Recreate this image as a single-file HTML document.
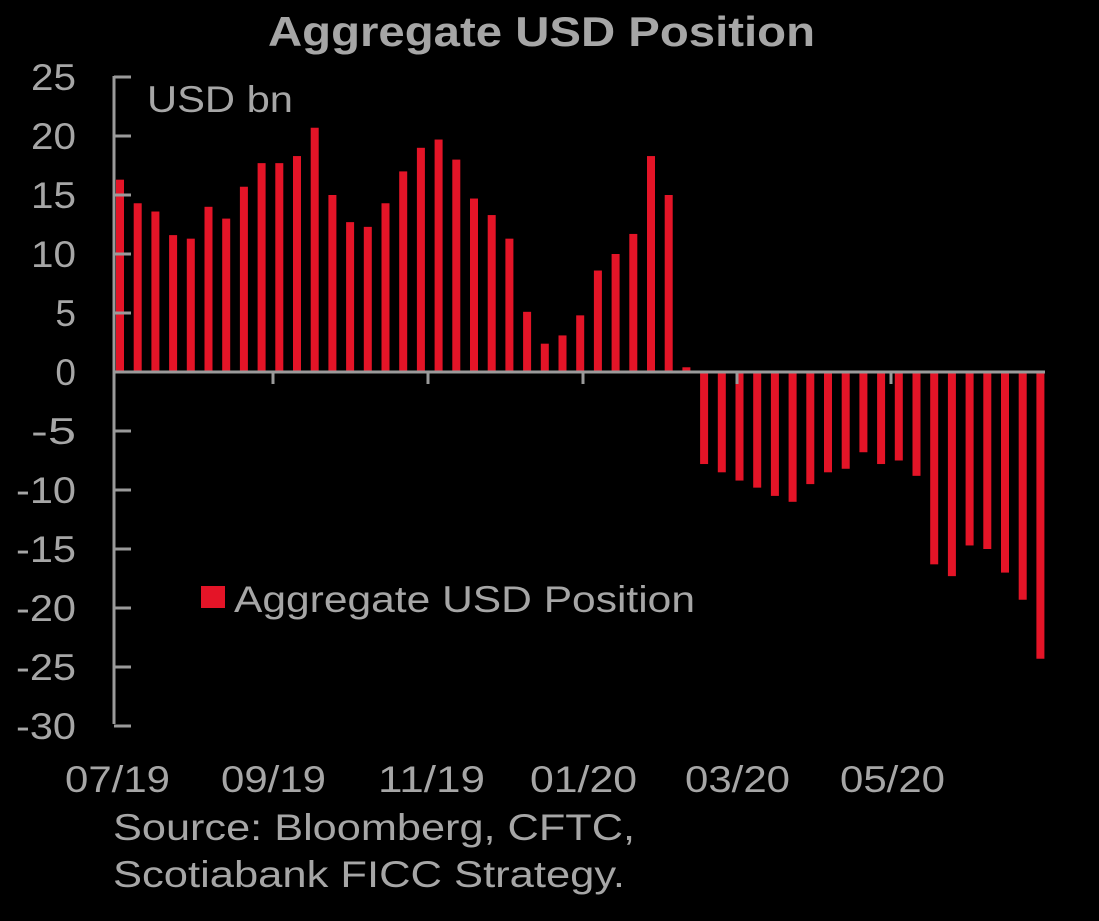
<!DOCTYPE html>
<html><head><style>
body{margin:0;background:#000;width:1099px;height:916px;overflow:hidden;font-family:"Liberation Sans",sans-serif;}
</style></head><body>
<svg width="1099" height="916" xmlns="http://www.w3.org/2000/svg">
<rect width="1099" height="916" fill="#000"/>
<text x="268" y="46" fill="#a6a6a6" font-size="42" font-weight="bold" textLength="547" lengthAdjust="spacingAndGlyphs">Aggregate USD Position</text>
<g id="bars" fill="#e41427"></g>
<g stroke="#9a9a9a" stroke-width="3" fill="none">
<line x1="114" y1="76" x2="114" y2="724"/>
<line x1="114" y1="372" x2="1045" y2="372"/>
</g>
<g id="ticks" stroke="#9a9a9a" stroke-width="3"></g>
<g fill="#a6a6a6" font-size="37" text-anchor="end" id="ylab"></g>
<text x="147" y="112" fill="#a6a6a6" font-size="37" textLength="146" lengthAdjust="spacingAndGlyphs">USD bn</text>
<g fill="#a6a6a6" font-size="37">
<text x="65" y="792" textLength="105" lengthAdjust="spacingAndGlyphs">07/19</text>
<text x="221" y="792" textLength="105" lengthAdjust="spacingAndGlyphs">09/19</text>
<text x="378" y="792" textLength="107" lengthAdjust="spacingAndGlyphs">11/19</text>
<text x="530" y="792" textLength="107" lengthAdjust="spacingAndGlyphs">01/20</text>
<text x="685" y="792" textLength="105" lengthAdjust="spacingAndGlyphs">03/20</text>
<text x="840" y="792" textLength="105" lengthAdjust="spacingAndGlyphs">05/20</text>
</g>
<rect x="201" y="586" width="24" height="22" fill="#e41427"/>
<text x="234" y="612" fill="#a6a6a6" font-size="37" textLength="461" lengthAdjust="spacingAndGlyphs">Aggregate USD Position</text>
<text x="113" y="840" fill="#a6a6a6" font-size="37" textLength="522" lengthAdjust="spacingAndGlyphs">Source: Bloomberg, CFTC,</text>
<text x="113" y="887" fill="#a6a6a6" font-size="37" textLength="512" lengthAdjust="spacingAndGlyphs">Scotiabank FICC  Strategy.</text>
</svg>
<script>
const v=[16.3,14.3,13.6,11.6,11.3,14,13,15.7,17.7,17.7,18.3,20.7,15,12.7,12.3,14.3,17,19,19.7,18,14.7,13.3,11.3,5.1,2.4,3.1,4.8,8.6,10,11.7,18.3,15,0.4,-7.8,-8.5,-9.2,-9.8,-10.5,-11,-9.5,-8.5,-8.2,-6.8,-7.8,-7.5,-8.8,-16.3,-17.3,-14.7,-15,-17,-19.3,-24.3];
const ns="http://www.w3.org/2000/svg",u=11.8,z=372;
const b=document.getElementById('bars');
v.forEach((d,i)=>{const r=document.createElementNS(ns,'rect');const cx=120+i*17.7;r.setAttribute('x',cx-4);r.setAttribute('width',8);
r.setAttribute('y',d>0?z-d*u:z);r.setAttribute('height',Math.abs(d)*u);b.appendChild(r);});
const t=document.getElementById('ticks'),yl=document.getElementById('ylab');
for(let k=25;k>=-30;k-=5){const y=z-k*u;const l=document.createElementNS(ns,'line');l.setAttribute('x1',114);l.setAttribute('x2',131);l.setAttribute('y1',y);l.setAttribute('y2',y);t.appendChild(l);
const tx=document.createElementNS(ns,'text');tx.setAttribute('x',76);tx.setAttribute('y',y+13);const s=String(k);
if(s.length>1){tx.setAttribute('textLength',s.length==3?60:45);tx.setAttribute('lengthAdjust','spacingAndGlyphs');}
tx.textContent=s;yl.appendChild(tx);}
[273,428,583,737,891].forEach(x=>{const l=document.createElementNS(ns,'line');l.setAttribute('x1',x);l.setAttribute('x2',x);l.setAttribute('y1',372);l.setAttribute('y2',384);t.appendChild(l);});
</script>
</body></html>
